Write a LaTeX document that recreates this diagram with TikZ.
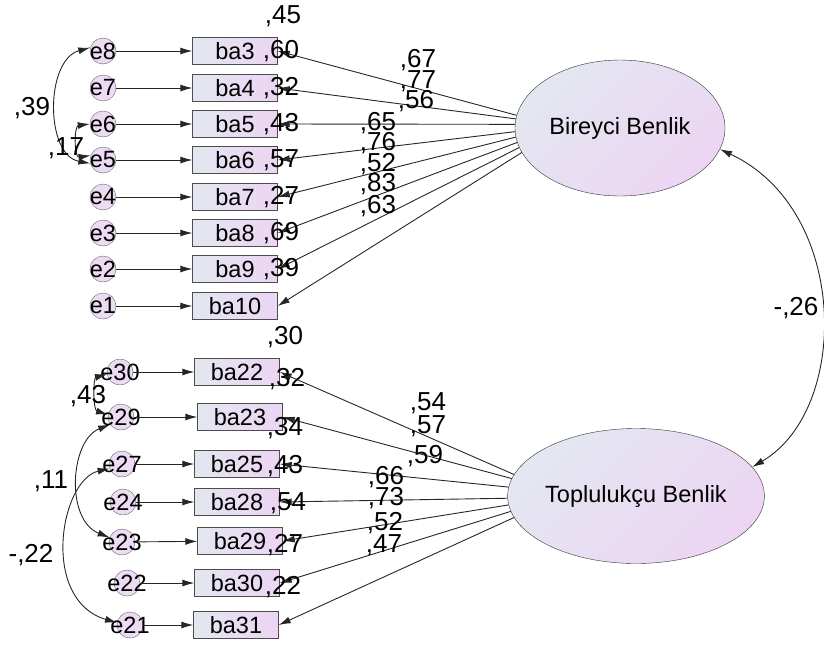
\documentclass[tikz,border=0pt]{standalone}
\usepackage{fontspec}
\setmainfont{Liberation Sans}
\usepackage{tikz}
\usetikzlibrary{shapes,arrows,arrows.meta}
\definecolor{paleslate}{RGB}{227,231,240}
\definecolor{palelilac}{RGB}{236,213,243}
\definecolor{errlilac}{RGB}{237,219,243}
\tikzstyle{item} = [rectangle, draw=black!70, left color=paleslate, right color=palelilac,
    minimum width=85pt, minimum height=27pt, inner sep=0pt]
\tikzstyle{err} = [circle, draw=black!60, fill=errlilac, minimum size=26pt, inner sep=0pt]
\tikzstyle{latent} = [ellipse, draw=black!80, top color=paleslate, bottom color=palelilac,
    shading angle=45, inner sep=0pt]
\tikzstyle{coef} = [inner sep=0pt, font=\fontsize{26}{30}\selectfont]
\tikzstyle{arrow} = [draw, black!85, line width=0.9pt, -{Latex[length=12pt,width=7pt]}]
\tikzstyle{covar} = [draw, black!85, line width=0.9pt,
    {Latex[length=12pt,width=7pt]}-{Latex[length=12pt,width=7pt]}]

\begin{document}
\begin{tikzpicture}[x=1pt, y=-1pt, font=\fontsize{23.5}{28}\selectfont]
  \useasboundingbox (0,0) rectangle (824,648);

  % latent factors
  \node[latent, minimum width=210pt, minimum height=136pt] (birey) at (620,128) {Bireyci Benlik};
  \node[latent, minimum width=206pt, minimum height=135pt] (toplu) at (636,496) {Toplulukçu Benlik};

  % first factor: errors and items
  \node[err, label=center:e8] (e8) at (103,51) {};
  \node[err, label=center:e7] (e7) at (103,88) {};
  \node[err, label=center:e6] (e6) at (103,124) {};
  \node[err, label=center:e5] (e5) at (103,160) {};
  \node[err, label=center:e4] (e4) at (103,197) {};
  \node[err, label=center:e3] (e3) at (103,233) {};
  \node[err, label=center:e2] (e2) at (103,269) {};
  \node[err, label=center:e1] (e1) at (103,306) {};
  \node[item] (ba3) at (235,51) {ba3};
  \node[item] (ba4) at (235,88) {ba4};
  \node[item] (ba5) at (235,124) {ba5};
  \node[item] (ba6) at (235,160) {ba6};
  \node[item] (ba7) at (235,197) {ba7};
  \node[item] (ba8) at (235,233) {ba8};
  \node[item] (ba9) at (235,269) {ba9};
  \node[item] (ba10) at (235,306) {ba10};

  % second factor: errors and items
  \node[err, label=center:e30] (e30) at (120,372) {};
  \node[err, label=center:e29] (e29) at (121,417) {};
  \node[err, label=center:e27] (e27) at (122,464) {};
  \node[err, label=center:e24] (e24) at (123,502) {};
  \node[err, label=center:e23] (e23) at (122,542) {};
  \node[err, label=center:e22] (e22) at (127,583) {};
  \node[err, label=center:e21] (e21) at (130,625) {};
  \node[item] (ba22) at (237,372) {ba22};
  \node[item] (ba23) at (240,417) {ba23};
  \node[item] (ba25) at (237,464) {ba25};
  \node[item] (ba28) at (237,502) {ba28};
  \node[item] (ba29) at (240,541) {ba29};
  \node[item] (ba30) at (237,583) {ba30};
  \node[item] (ba31) at (236,625) {ba31};

  % error paths
  \draw[arrow] (e8) -- (ba3);
  \draw[arrow] (e7) -- (ba4);
  \draw[arrow] (e6) -- (ba5);
  \draw[arrow] (e5) -- (ba6);
  \draw[arrow] (e4) -- (ba7);
  \draw[arrow] (e3) -- (ba8);
  \draw[arrow] (e2) -- (ba9);
  \draw[arrow] (e1) -- (ba10);
  \draw[arrow] (e30) -- (ba22);
  \draw[arrow] (e29) -- (ba23);
  \draw[arrow] (e27) -- (ba25);
  \draw[arrow] (e24) -- (ba28);
  \draw[arrow] (e23) -- (ba29);
  \draw[arrow] (e22) -- (ba30);
  \draw[arrow] (e21) -- (ba31);

  % loadings
  \draw[arrow] (birey.173) -- (ba3.east);
  \draw[arrow] (birey.175) -- (ba4.east);
  \draw[arrow] (birey.178) -- (ba5.east);
  \draw[arrow] (birey.182) -- (ba6.east);
  \draw[arrow] (birey.185) -- (ba7.east);
  \draw[arrow] (birey.188) -- (ba8.east);
  \draw[arrow] (birey.191) -- (ba9.east);
  \draw[arrow] (birey.194) -- (ba10.east);
  \draw[arrow] (toplu.170) -- (ba22.east);
  \draw[arrow] (toplu.172) -- (ba23.east);
  \draw[arrow] (toplu.176) -- (ba25.east);
  \draw[arrow] (toplu.181) -- (ba28.east);
  \draw[arrow] (toplu.184) -- (ba29.east);
  \draw[arrow] (toplu.187) -- (ba30.east);
  \draw[arrow] (toplu.190) -- (ba31.east);

  % covariances
  \draw[covar] (e8.165) .. controls (45,60) and (45,155) .. (e5.195);
  \draw[covar] (e6.180) .. controls (74,126) and (74,158) .. (e5.160);
  \draw[covar] (e30.190) .. controls (93,378) and (93,410) .. (e29.170);
  \draw[covar] (e29.215) .. controls (70,440) and (65,520) .. (e23.160);
  \draw[covar] (e27.200) .. controls (60,480) and (40,600) .. (e21.170);
  \draw[covar] (birey.-12) .. controls (850,210) and (850,410) .. (toplu.14);

  % squared multiple correlations
  \node[coef] (r3) at (283,16) {,45};
  \node[coef] (r4) at (281,51) {,60};
  \node[coef] (r5) at (281,88) {,32};
  \node[coef] (r6) at (281,124) {,43};
  \node[coef] (r7) at (281,160) {,57};
  \node[coef] (r8) at (281,197) {,27};
  \node[coef] (r9) at (281,233) {,69};
  \node[coef] (r10) at (281,269) {,39};
  \node[coef] (r22) at (285,337) {,30};
  \node[coef] (r23) at (287,379) {,32};
  \node[coef] (r25) at (285,428) {,34};
  \node[coef] (r28) at (285,466) {,43};
  \node[coef] (r29) at (288,503) {,54};
  \node[coef] (r30) at (285,545) {,27};
  \node[coef] (r31) at (283,587) {,22};

  % loading values
  \node[coef] (l3) at (418,60) {,67};
  \node[coef] (l4) at (418,81) {,77};
  \node[coef] (l5) at (416,101) {,56};
  \node[coef] (l6) at (378,123) {,65};
  \node[coef] (l7) at (378,143) {,76};
  \node[coef] (l8) at (378,164) {,52};
  \node[coef] (l9) at (378,184) {,83};
  \node[coef] (l10) at (378,206) {,63};
  \node[coef] (l22) at (428,403) {,54};
  \node[coef] (l23) at (428,426) {,57};
  \node[coef] (l25) at (425,456) {,59};
  \node[coef] (l28) at (386,477) {,66};
  \node[coef] (l29) at (386,498) {,73};
  \node[coef] (l30) at (385,523) {,52};
  \node[coef] (l31) at (384,545) {,47};

  % covariance values
  \node[coef] (c85) at (32,108) {,39};
  \node[coef] (c65) at (66,148) {,17};
  \node[coef] (c3029) at (88,396) {,43};
  \node[coef] (c2923) at (51,481) {,11};
  \node[coef] (c2721) at (31,555) {-,22};
  \node[coef] (cfac) at (796,308) {-,26};
\end{tikzpicture}
\end{document}
